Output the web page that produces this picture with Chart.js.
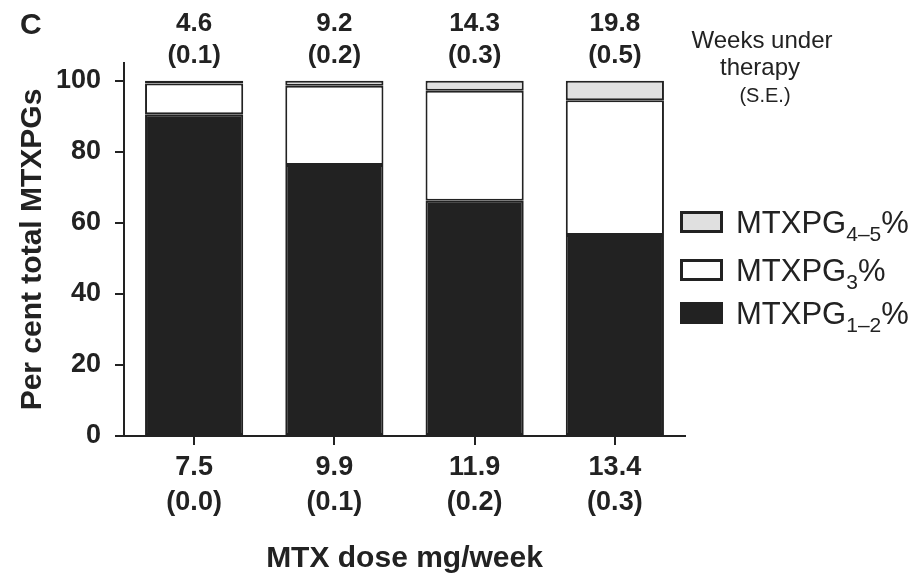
<!DOCTYPE html>
<html>
<head>
<meta charset="utf-8">
<script src="https://cdn.jsdelivr.net/npm/chart.js@4.4.1/dist/chart.umd.min.js"></script>
<style>
  html, body { margin: 0; padding: 0; background: #fff; }
  #wrap { width: 917px; height: 577px; position: relative; }
</style>
</head>
<body>
<div id="wrap"><canvas id="c" width="917" height="577"></canvas></div>
<script>
// Mean MTX dose (mg/week) with S.E., one bar per dose group
const doseLabels = ['7.5', '9.9', '11.9', '13.4'];
const doseSE = ['(0.0)', '(0.1)', '(0.2)', '(0.3)'];
// Weeks under therapy with S.E.
const weeksLabels = ['4.6', '9.2', '14.3', '19.8'];
const weeksSE = ['(0.1)', '(0.2)', '(0.3)', '(0.5)'];

// Per cent of total MTXPGs by polyglutamate chain length
const pg12 = [90.6, 76.3, 66.2, 56.6];
const pg3 = [8.6, 22.3, 31.0, 37.9];
const pg45 = [0.8, 1.4, 2.8, 5.5];

const yTicks = [0, 20, 40, 60, 80, 100];

const INK = '#222222';
const FONT = '"Liberation Sans", Arial, Helvetica, sans-serif';

// Legend entries: base name, subscript, fill (top entry first)
const legendItems = [
  { base: 'MTXPG', sub: '4\u20135', fill: '#e0e0e0' },
  { base: 'MTXPG', sub: '3', fill: '#ffffff' },
  { base: 'MTXPG', sub: '1\u20132', fill: INK }
];

const annotations = {
  id: 'annotations',
  afterDraw(chart) {
    const ctx = chart.ctx;
    const xs = chart.scales.x;
    ctx.save();
    ctx.fillStyle = INK;

    // Panel letter
    ctx.font = 'bold 30px ' + FONT;
    ctx.textAlign = 'left';
    ctx.textBaseline = 'alphabetic';
    ctx.fillText('C', 20, 34);

    // Weeks under therapy above each bar
    ctx.font = 'bold 26px ' + FONT;
    ctx.textAlign = 'center';
    weeksLabels.forEach((w, i) => {
      const x = xs.getPixelForValue(i);
      ctx.fillText(w, x, 31);
      ctx.fillText(weeksSE[i], x, 63);
    });

    // Caption for the top row
    ctx.font = '24px ' + FONT;
    ctx.fillText('Weeks under', 762, 48);
    ctx.fillText('therapy', 760, 75);
    ctx.font = '20px ' + FONT;
    ctx.fillText('(S.E.)', 765, 102);

    // Legend with subscripted names
    const rows = [222, 270, 313];
    legendItems.forEach((it, i) => {
      const cy = rows[i];
      ctx.fillStyle = it.fill;
      ctx.fillRect(680, cy - 11, 43, 22);
      ctx.strokeStyle = INK;
      ctx.lineWidth = 3;
      ctx.strokeRect(681.5, cy - 9.5, 40, 19);
      ctx.fillStyle = INK;
      ctx.textAlign = 'left';
      const base = cy + 11;
      ctx.font = '31px ' + FONT;
      let x = 736;
      ctx.fillText(it.base, x, base);
      x += ctx.measureText(it.base).width;
      ctx.font = '21px ' + FONT;
      ctx.fillText(it.sub, x, base + 8);
      x += ctx.measureText(it.sub).width;
      ctx.font = '31px ' + FONT;
      ctx.fillText('%', x, base);
    });
    ctx.restore();
  }
};

const barStyle = {
  borderColor: INK,
  borderWidth: 2,
  borderSkipped: false,
  categoryPercentage: 1.0,
  barPercentage: 0.7
};

new Chart(document.getElementById('c'), {
  type: 'bar',
  data: {
    labels: doseLabels.map((d, i) => [d, doseSE[i]]),
    datasets: [
      Object.assign({ label: 'MTXPG1\u20132%', data: pg12, backgroundColor: INK }, barStyle),
      Object.assign({ label: 'MTXPG3%', data: pg3, backgroundColor: '#ffffff' }, barStyle),
      Object.assign({ label: 'MTXPG4\u20135%', data: pg45, backgroundColor: '#e0e0e0' }, barStyle)
    ]
  },
  options: {
    responsive: false,
    animation: false,
    layout: { padding: { top: 63, right: 232, left: 0, bottom: 0 } },
    plugins: { legend: { display: false }, tooltip: { enabled: false } },
    scales: {
      x: {
        stacked: true,
        afterFit(s) { s.height = 141; },
        border: { display: true, color: INK, width: 2 },
        grid: { drawOnChartArea: false, drawTicks: true, tickLength: 9, lineWidth: 2, color: INK, offset: false },
        ticks: {
          color: INK, padding: 5, maxRotation: 0,
          font: { family: FONT, size: 27, weight: 'bold', lineHeight: 1.3 }
        },
        title: {
          display: true, text: 'MTX dose mg/week', color: INK,
          font: { family: FONT, size: 30, weight: 'bold', lineHeight: 1.2 },
          padding: { top: 0, bottom: 0 }
        }
      },
      y: {
        stacked: true,
        min: 0, max: 105,
        afterFit(s) { s.width = 124; },
        afterBuildTicks(s) { s.ticks = yTicks.map(v => ({ value: v })); },
        border: { display: true, color: INK, width: 2 },
        grid: { drawOnChartArea: false, drawTicks: true, tickLength: 9, lineWidth: 2, color: INK },
        ticks: {
          color: INK, padding: 14,
          font: { family: FONT, size: 27, weight: 'bold' }
        },
        title: {
          display: true, text: 'Per cent total MTXPGs', color: INK,
          font: { family: FONT, size: 30, weight: 'bold', lineHeight: 1.2 },
          padding: { top: 15, bottom: 0 }
        }
      }
    }
  },
  plugins: [annotations]
});
</script>
</body>
</html>
